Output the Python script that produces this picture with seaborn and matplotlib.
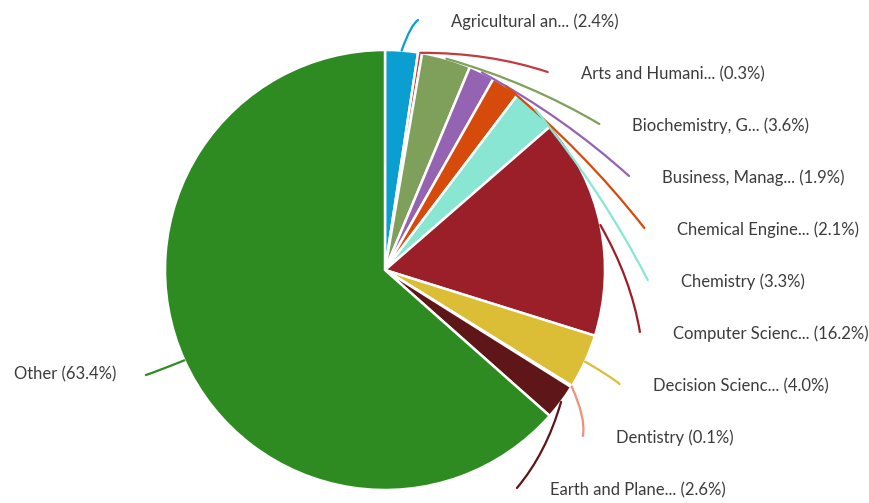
import numpy as np
import matplotlib
matplotlib.use('Agg')
import matplotlib.pyplot as plt
import seaborn as sns
from matplotlib.path import Path
from matplotlib.patches import PathPatch

subjects = ['Agricultural an...', 'Arts and Humani...', 'Biochemistry, G...', 'Business, Manag...',
            'Chemical Engine...', 'Chemistry', 'Computer Scienc...', 'Decision Scienc...',
            'Dentistry', 'Earth and Plane...', 'Other']
shares = [2.4, 0.3, 3.6, 1.9, 2.1, 3.3, 16.2, 4.0, 0.1, 2.6, 63.4]
colors = ['#0a9fd0', '#c23b3f', '#7ea05a', '#9463b2', '#d64a0c', '#88e6d3',
          '#9b1f29', '#dbbe35', '#eb9478', '#5e1619', '#2e8b22']

sns.set_theme(style='white')
plt.rcParams['font.family'] = ['Lato', 'DejaVu Sans']

fig = plt.figure(figsize=(8.69, 5.03), dpi=100)
ax = fig.add_axes([0, 0, 1, 1])
ax.pie(shares, colors=colors, startangle=90, counterclock=False, radius=1,
       wedgeprops=dict(edgecolor='white', linewidth=1.8))

# pixel layout: centre at (385, 270), radius 220 px
scale = 220.0
ax.set_xlim(-385 / scale, (869 - 385) / scale)
ax.set_ylim(-(503 - 270) / scale, 270 / scale)
ax.set_aspect('equal')
ax.axis('off')

# labels sit on an ellipse around the pie
ell_a, ell_b = 263 / scale, 252 / scale
total = sum(shares)
cum = np.cumsum([0] + shares[:-1])
mids = (cum + np.array(shares) / 2) / total * 360


def label_end(y, side):
    x = ell_a * np.sqrt(max(0.0, 1 - (y / ell_b) ** 2))
    return side * x, y


for i, (name, share, col, mid) in enumerate(zip(subjects, shares, colors, mids)):
    t = np.deg2rad(mid)
    p0 = np.array([np.sin(t), np.cos(t)])
    if name == 'Other':
        py = 375
        side = -1
    else:
        py = 20 + 52 * i
        side = 1
    p2 = np.array(label_end((270 - py) / scale, side))
    m = (p0 + p2) / 2
    c = m + 0.05 * m / np.linalg.norm(m)
    path = Path([p0, c, p2], [Path.MOVETO, Path.CURVE3, Path.CURVE3])
    ax.add_patch(PathPatch(path, fc='none', ec=col, lw=1.6, capstyle='round'))
    txt = f'{name} ({share}%)'
    if side > 0:
        ax.text(p2[0] + 33 / scale, p2[1] - 2 / scale, txt, ha='left', va='center',
                fontsize=12, color='#3c3c3c')
    else:
        ax.text(p2[0] - 30 / scale, p2[1] + 1 / scale, txt, ha='right', va='center',
                fontsize=12, color='#3c3c3c')

fig.savefig('out.png', dpi=100)
